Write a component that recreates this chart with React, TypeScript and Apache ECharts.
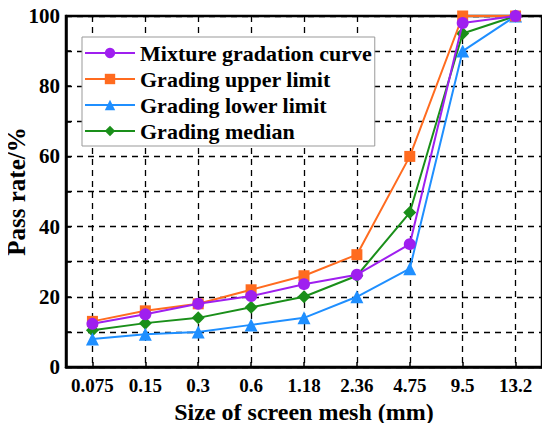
import React, { useEffect, useRef } from "react";
import * as echarts from "echarts";

const categories = ["0.075", "0.15", "0.3", "0.6", "1.18", "2.36", "4.75", "9.5", "13.2"];
const mixture = [12.3, 15, 18, 20.2, 23.6, 26.3, 35, 98, 100];
const upper = [13, 16, 18, 22, 26, 32, 60, 100, 100];
const lower = [8, 9.3, 10, 12, 14, 20, 28, 90, 100];
const median = [10.5, 12.5, 14, 17, 20, 26, 44, 95, 100];
const seriesNames = ["Mixture gradation curve", "Grading upper limit", "Grading lower limit", "Grading median"];
const colors = ["#9F1FEF", "#FF6B1F", "#1F8FFF", "#1A8F1A"];
const symbols = ["circle", "rect", "triangle", "diamond"];
const symbolSizes = [12, 11, 13, 13];

const FONT = "'Liberation Serif', 'Times New Roman', serif";

// half-step slots for the grid lines through the category centres
const halfSlots = Array.from({ length: categories.length * 2 + 1 }, () => "");

export default function App() {
  const ref = useRef<HTMLDivElement>(null);
  useEffect(() => {
    if (!ref.current) return;
    const chart = echarts.init(ref.current, undefined, { renderer: "svg" });
    const datas = [mixture, upper, lower, median];
    chart.setOption({
      animation: false,
      backgroundColor: "#fff",
      textStyle: { fontFamily: FONT },
      grid: {
        left: 66,
        right: 8,
        top: 16,
        bottom: 64,
        containLabel: false,
        outerBoundsMode: "none",
        show: true,
        borderColor: "#000",
        borderWidth: 2.5,
        backgroundColor: "transparent",
      },
      legend: {
        left: 82,
        top: 37,
        orient: "vertical",
        data: seriesNames,
        backgroundColor: "#fff",
        borderColor: "#999",
        borderWidth: 1,
        borderRadius: 0,
        padding: [5, 3, 4, 2],
        itemGap: 4,
        itemWidth: 50,
        itemHeight: 13,
        textStyle: { fontFamily: FONT, fontWeight: "bold", fontSize: 22, color: "#000" },
      },
      xAxis: [
        {
          type: "category",
          data: categories,
          boundaryGap: true,
          axisLine: { show: true, lineStyle: { color: "#000", width: 2.5 } },
          axisTick: { show: true, inside: true, alignWithLabel: true, length: 5, lineStyle: { color: "#000", width: 1.5 } },
          axisLabel: { color: "#000", fontFamily: FONT, fontWeight: "bold", fontSize: 19, margin: 9, interval: 0 },
          splitLine: { show: false },
          name: "Size of screen mesh (mm)",
          nameLocation: "middle",
          nameGap: 33,
          nameMoveOverlap: false,
          nameTextStyle: { color: "#000", fontFamily: FONT, fontWeight: "bold", fontSize: 24 },
          z: 5,
        },
        {
          type: "category",
          data: halfSlots,
          boundaryGap: false,
          position: "bottom",
          axisLine: { show: false },
          axisTick: { show: false },
          axisLabel: { show: false },
          splitLine: {
            show: true,
            interval: (i: number) => i % 2 === 1,
            lineStyle: { color: "#000", type: [6, 5], width: 1.3 },
          },
        },
      ],
      yAxis: {
        type: "value",
        min: 0,
        max: 100,
        interval: 10,
        axisLine: { show: true, lineStyle: { color: "#000", width: 2.5 } },
        axisTick: { show: true, inside: true, length: 5, lineStyle: { color: "#000", width: 1.5 } },
        axisLabel: {
          color: "#000",
          fontFamily: FONT,
          fontWeight: "bold",
          fontSize: 21,
          margin: 6,
          formatter: (v: number) => (v % 20 === 0 ? String(v) : ""),
        },
        splitLine: { show: true, lineStyle: { color: "#000", type: [6, 5], width: 1.3 } },
        name: "Pass rate/%",
        nameLocation: "middle",
        nameGap: 37,
        nameMoveOverlap: false,
        nameTextStyle: { color: "#000", fontFamily: FONT, fontWeight: "bold", fontSize: 25 },
      },
      series: seriesNames.map((name, i) => ({
        name,
        type: "line",
        xAxisIndex: 0,
        data: datas[i],
        symbol: symbols[i],
        symbolSize: symbolSizes[i],
        showAllSymbol: true,
        color: colors[i],
        lineStyle: { color: colors[i], width: 2 },
        itemStyle: { color: colors[i] },
        z: 3 + (3 - i),
      })),
    });
    return () => chart.dispose();
  }, []);
  return <div ref={ref} style={{ width: 550, height: 431, margin: -8 }} />;
}
